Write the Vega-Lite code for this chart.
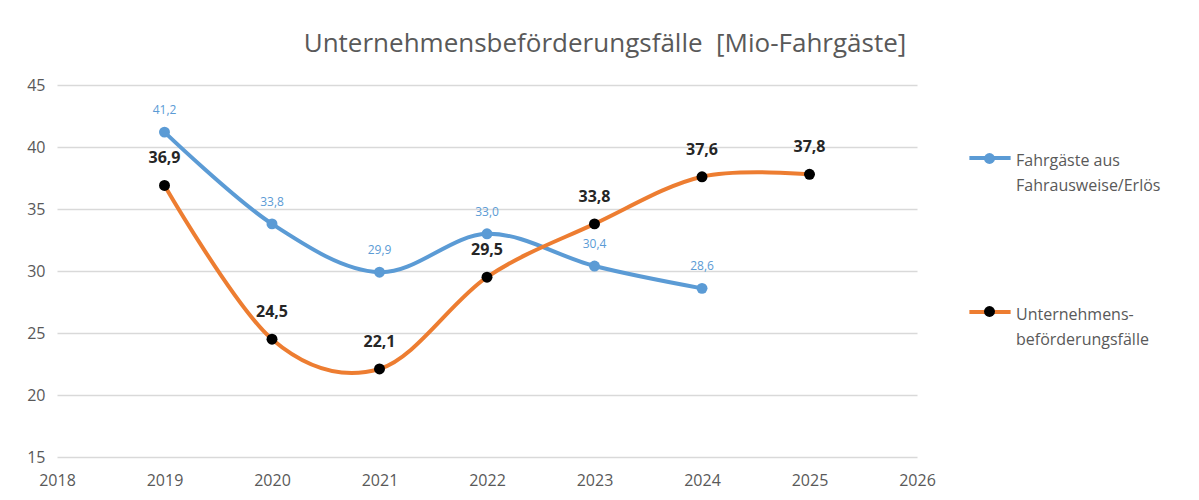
{
  "$schema": "https://vega.github.io/schema/vega-lite/v6.json",
  "width": 860,
  "height": 372,
  "autosize": {"type": "none"},
  "padding": {"left": 57, "top": 85, "right": 282, "bottom": 43},
  "background": "white",
  "config": {
    "view": {"stroke": null},
    "font": "Open Sans",
    "locale": {"number": {"decimal": ",", "thousands": ".", "grouping": [3], "currency": ["", " €"]}}
  },
  "title": {
    "text": "Unternehmensbeförderungsfälle\u00a0 [Mio-Fahrgäste]",
    "font": "Open Sans",
    "fontSize": 26,
    "fontWeight": "normal",
    "color": "#595959",
    "anchor": "middle",
    "dx": 118,
    "offset": 20
  },
  "data": {
    "values": [
      {"Jahr": 2019, "Serie": "Fahrgäste aus Fahrausweise/Erlös", "Wert": 41.2},
      {"Jahr": 2020, "Serie": "Fahrgäste aus Fahrausweise/Erlös", "Wert": 33.8},
      {"Jahr": 2021, "Serie": "Fahrgäste aus Fahrausweise/Erlös", "Wert": 29.9},
      {"Jahr": 2022, "Serie": "Fahrgäste aus Fahrausweise/Erlös", "Wert": 33.0},
      {"Jahr": 2023, "Serie": "Fahrgäste aus Fahrausweise/Erlös", "Wert": 30.4},
      {"Jahr": 2024, "Serie": "Fahrgäste aus Fahrausweise/Erlös", "Wert": 28.6},
      {"Jahr": 2019, "Serie": "Unternehmensbeförderungsfälle", "Wert": 36.9},
      {"Jahr": 2020, "Serie": "Unternehmensbeförderungsfälle", "Wert": 24.5},
      {"Jahr": 2021, "Serie": "Unternehmensbeförderungsfälle", "Wert": 22.1},
      {"Jahr": 2022, "Serie": "Unternehmensbeförderungsfälle", "Wert": 29.5},
      {"Jahr": 2023, "Serie": "Unternehmensbeförderungsfälle", "Wert": 33.8},
      {"Jahr": 2024, "Serie": "Unternehmensbeförderungsfälle", "Wert": 37.6},
      {"Jahr": 2025, "Serie": "Unternehmensbeförderungsfälle", "Wert": 37.8}
    ]
  },
  "encoding": {
    "x": {
      "field": "Jahr",
      "type": "quantitative",
      "scale": {"domain": [2018, 2026], "nice": false, "zero": false},
      "axis": {
        "title": null,
        "values": [2018, 2019, 2020, 2021, 2022, 2023, 2024, 2025, 2026],
        "format": "d",
        "grid": false,
        "domain": false,
        "ticks": false,
        "labelFontSize": 16,
        "labelColor": "#595959",
        "labelPadding": 15,
        "labelFlush": false
      }
    },
    "y": {
      "field": "Wert",
      "type": "quantitative",
      "scale": {"domain": [15, 45], "nice": false, "zero": false},
      "axis": {
        "title": null,
        "values": [15, 20, 25, 30, 35, 40, 45],
        "grid": true,
        "gridColor": "#d9d9d9",
        "gridWidth": 1.5,
        "domain": false,
        "ticks": false,
        "labelFontSize": 16,
        "labelColor": "#595959",
        "labelPadding": 12
      }
    }
  },
  "layer": [
    {
      "mark": {"type": "line", "interpolate": "cardinal", "strokeWidth": 4},
      "encoding": {
        "stroke": {
          "field": "Serie",
          "type": "nominal",
          "scale": {"domain": ["Fahrgäste aus Fahrausweise/Erlös", "Unternehmensbeförderungsfälle"], "range": ["#5b9bd5", "#ed7d31"]},
          "legend": {
            "title": null,
            "orient": "none",
            "legendX": 910,
            "legendY": 50,
            "padding": 0,
            "symbolType": "stroke",
            "symbolSize": 1700,
            "symbolStrokeWidth": 4,
            "labelFontSize": 16,
            "labelColor": "#595959",
            "labelOffset": 3,
            "rowPadding": 95,
            "labelExpr": "datum.value == 'Unternehmensbeförderungsfälle' ? ['Unternehmens-', 'beförderungsfälle'] : ['Fahrgäste aus', 'Fahrausweise/Erlös']",
            "encode": {"labels": {"update": {"dy": {"value": 3}, "lineHeight": {"value": 25}}}}
          }
        }
      }
    },
    {
      "mark": {"type": "point", "filled": true, "size": 120, "opacity": 1},
      "encoding": {
        "fill": {
          "field": "Serie",
          "type": "nominal",
          "scale": {"range": ["#5b9bd5", "#000000"]},
          "legend": {
            "title": null,
            "orient": "none",
            "legendX": 927,
            "legendY": 68,
            "padding": 0,
            "symbolType": "circle",
            "symbolSize": 120,
            "symbolOpacity": 1,
            "symbolStrokeWidth": 0,
            "labelExpr": "''",
            "labelFontSize": 1,
            "labelOffset": 0,
            "rowPadding": 142
          }
        }
      }
    },
    {
      "transform": [{"filter": "datum.Serie == 'Fahrgäste aus Fahrausweise/Erlös'"}],
      "mark": {"type": "text", "fontSize": 12, "color": "#5b9bd5", "dy": -22},
      "encoding": {"text": {"field": "Wert", "type": "quantitative", "format": ".1f"}}
    },
    {
      "transform": [{"filter": "datum.Serie == 'Unternehmensbeförderungsfälle'"}],
      "mark": {"type": "text", "fontSize": 16, "fontWeight": "bold", "color": "#262626", "dy": -27},
      "encoding": {"text": {"field": "Wert", "type": "quantitative", "format": ".1f"}}
    }
  ]
}
